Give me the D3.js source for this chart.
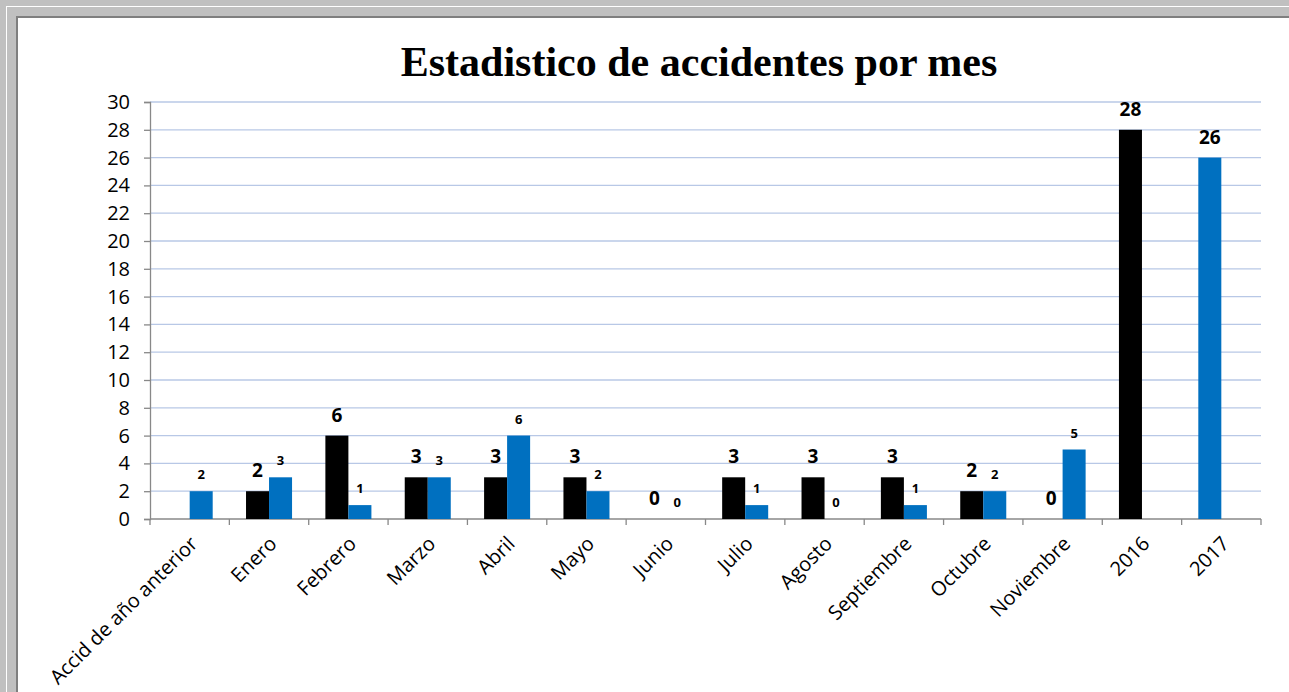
<!DOCTYPE html>
<html>
<head>
<meta charset="utf-8">
<script src="https://cdn.jsdelivr.net/npm/d3@7"></script>
<style>
  body { margin: 0; background: #c0c0c0; }
  svg { display: block; }
</style>
</head>
<body>
<svg id="chart" width="1289" height="692"></svg>
<script>
// data
var categories = ["Accid de año anterior", "Enero", "Febrero", "Marzo", "Abril", "Mayo", "Junio",
                  "Julio", "Agosto", "Septiembre", "Octubre", "Noviembre", "2016", "2017"];
var serie1 = [null, 2, 6, 3, 3, 3, 0, 3, 3, 3, 2, 0, 28, 26];
var serie2 = [2, 3, 1, 3, 6, 2, 0, 1, 0, 1, 2, 5, null, null];
var yTicks = d3.range(0, 31, 2);

var svg = d3.select("#chart");

////// frame //////
svg.append("rect").attr("x", 6).attr("y", 6).attr("width", 1289).attr("height", 692).attr("fill", "#ffffff");
svg.append("rect").attr("x", 7).attr("y", 7).attr("width", 1289).attr("height", 692).attr("fill", "#c0c0c0");
svg.append("rect").attr("x", 16).attr("y", 16).attr("width", 1289).attr("height", 692).attr("fill", "#7f7f7f");
svg.append("rect").attr("x", 18).attr("y", 18).attr("width", 1289).attr("height", 692).attr("fill", "#ffffff");

svg.append("text")
  .attr("x", 699).attr("y", 76)
  .attr("text-anchor", "middle")
  .style("font-family", "'Liberation Serif', 'Times New Roman', serif")
  .style("font-weight", "bold")
  .style("font-size", "42px")
  .text("Estadistico de accidentes por mes");

var x = d3.scaleBand().domain(categories).range([150, 1261]);
var y = d3.scaleLinear().domain([0, 30]).range([519, 102]);
var bw = x.bandwidth() * 0.29;

// gridlines
svg.append("g").selectAll("line")
  .data(yTicks.filter(d => d > 0))
  .join("line")
  .attr("x1", 150).attr("x2", 1261)
  .attr("y1", d => y(d)).attr("y2", d => y(d))
  .attr("stroke", "#b8c8e6").attr("stroke-width", 1.3);

// y axis
var yAxis = svg.append("g")
  .attr("transform", "translate(150,0)")
  .call(d3.axisLeft(y).tickValues(yTicks).tickSize(6).tickPadding(14));
yAxis.selectAll("line, path").attr("stroke", "#888888").attr("stroke-width", 1.3);
yAxis.selectAll("text").style("font-family", "'Open Sans', sans-serif").style("font-size", "20px").attr("fill", "#000");

// x axis
var xAxis = svg.append("g")
  .attr("transform", "translate(0,519)");
xAxis.append("line").attr("x1", 150).attr("x2", 1261).attr("stroke", "#888888").attr("stroke-width", 1.5);
xAxis.selectAll("line.tk")
  .data(d3.range(categories.length + 1))
  .join("line").attr("class", "tk")
  .attr("x1", i => 150 + i * x.step()).attr("x2", i => 150 + i * x.step())
  .attr("y1", 0).attr("y2", 6)
  .attr("stroke", "#888888").attr("stroke-width", 1.3);
xAxis.selectAll("text")
  .data(categories)
  .join("text")
  .attr("transform", d => "translate(" + (x(d) + x.bandwidth() / 2 + 9) + ",26) rotate(-45)")
  .attr("text-anchor", "end")
  .style("font-family", "'Open Sans', sans-serif")
  .style("font-size", "20px")
  .text(d => d);

// bars
var bars = svg.append("g");
bars.selectAll("rect.s1")
  .data(categories.map((c, i) => ({c: c, v: serie1[i]})).filter(d => d.v != null))
  .join("rect").attr("class", "s1")
  .attr("x", d => x(d.c) + x.bandwidth() / 2 - bw)
  .attr("y", d => y(d.v))
  .attr("width", bw)
  .attr("height", d => y(0) - y(d.v))
  .attr("fill", d => d.c == "2017" ? "#0070c0" : "#000000");
bars.selectAll("rect.s2")
  .data(categories.map((c, i) => ({c: c, v: serie2[i]})).filter(d => d.v != null))
  .join("rect").attr("class", "s2")
  .attr("x", d => x(d.c) + x.bandwidth() / 2)
  .attr("y", d => y(d.v))
  .attr("width", bw)
  .attr("height", d => y(0) - y(d.v))
  .attr("fill", "#0070c0");

// labels
bars.selectAll("text.l1")
  .data(categories.map((c, i) => ({c: c, v: serie1[i]})).filter(d => d.v != null))
  .join("text").attr("class", "l1")
  .attr("x", d => x(d.c) + x.bandwidth() / 2 - bw / 2)
  .attr("y", d => y(d.v) - 14)
  .attr("text-anchor", "middle")
  .style("font-family", "'Open Sans', sans-serif")
  .style("font-weight", "bold")
  .style("font-size", "19px")
  .text(d => d.v);
bars.selectAll("text.l2")
  .data(categories.map((c, i) => ({c: c, v: serie2[i]})).filter(d => d.v != null))
  .join("text").attr("class", "l2")
  .attr("x", d => x(d.c) + x.bandwidth() / 2 + bw / 2)
  .attr("y", d => y(d.v) - 12)
  .attr("text-anchor", "middle")
  .style("font-family", "'Open Sans', sans-serif")
  .style("font-weight", "bold")
  .style("font-size", "13px")
  .text(d => d.v);
</script>
</body>
</html>
